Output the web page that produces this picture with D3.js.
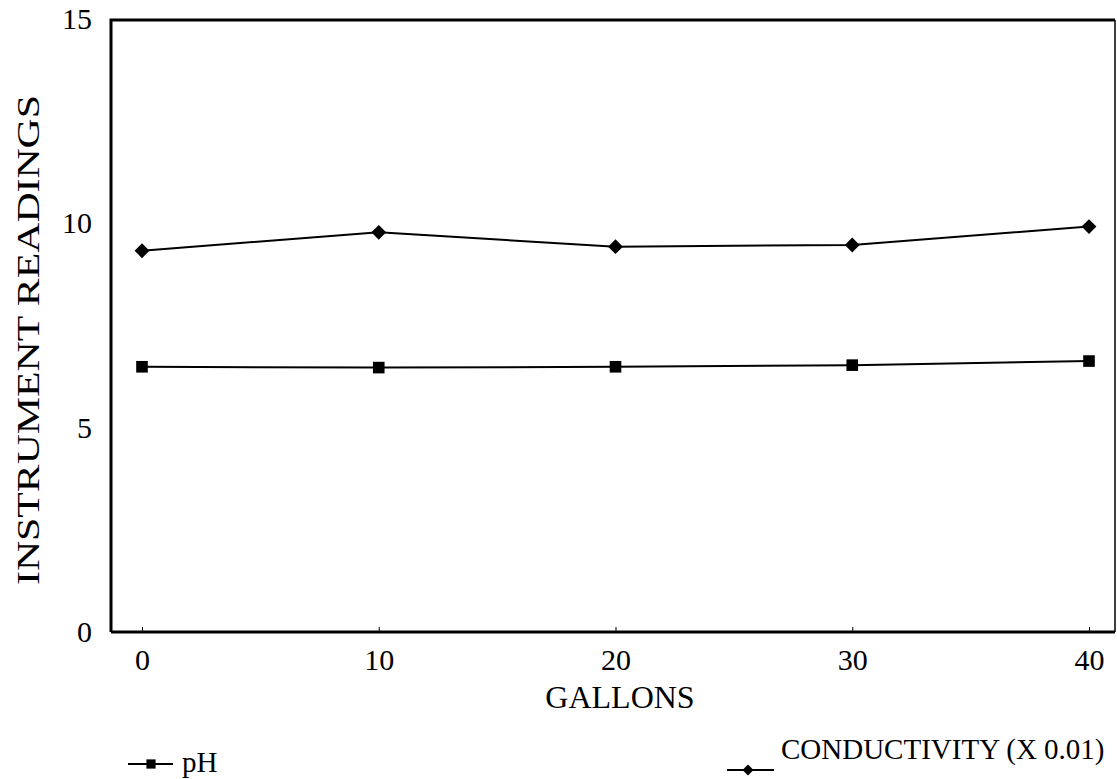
<!DOCTYPE html>
<html><head><meta charset="utf-8">
<script src="https://cdn.jsdelivr.net/npm/d3@7"></script>
<style>body{margin:0;background:#fff}svg{display:block}text{font-family:"Liberation Serif","Times New Roman",serif;fill:#000}</style>
</head><body><svg id="c" width="1117" height="779"></svg>
<script>
const gallons = [0, 10, 20, 30, 40];
const phValues = [6.49, 6.47, 6.49, 6.53, 6.63];
const conductivityValues = [9.33, 9.78, 9.43, 9.47, 9.92];
const yTicks = [0, 5, 10, 15];
const xTicks = [0, 10, 20, 30, 40];
const xTitle = "GALLONS";
const yTitle = "INSTRUMENT READINGS";
const legendPh = "pH";
const legendCond = "CONDUCTIVITY (X 0.01)";

(function(){
const svg = d3.select("#c");
const x = d3.scaleLinear().domain([0, 40]).range([142, 1089]);
const y = d3.scaleLinear().domain([0, 15]).range([632, 19]);
const pl = 111, pr = 1115, pt = 20, pb = 632;

// frame
svg.append("path").attr("d", `M${pl},${pb}V${pt}H${pr}`).attr("fill","none").attr("stroke","#000").attr("stroke-width",3);
svg.append("line").attr("x1",pr).attr("x2",pr).attr("y1",pt).attr("y2",pb).attr("stroke","#000").attr("stroke-width",1.5);
svg.append("line").attr("x1",pl).attr("x2",pr).attr("y1",pb).attr("y2",pb).attr("stroke","#000").attr("stroke-width",3);

// x ticks
const xa = svg.append("g").attr("transform",`translate(0,${pb})`)
  .call(d3.axisBottom(x).tickValues(xTicks).tickSize(-5).tickPadding(17).tickFormat(d3.format("d")));
xa.select(".domain").remove();
xa.attr("font-size",30).attr("font-family","Liberation Serif");
xa.selectAll("line").attr("stroke-width",1);

// y ticks
const ya = svg.append("g").attr("transform",`translate(${pl},0)`)
  .call(d3.axisLeft(y).tickValues(yTicks).tickSize(0).tickPadding(19).tickFormat(d3.format("d")));
ya.select(".domain").remove();
ya.attr("font-size",30).attr("font-family","Liberation Serif");

// titles
svg.append("text").attr("x",620).attr("y",708).attr("text-anchor","middle").attr("font-size",32).text(xTitle);
svg.append("text").attr("transform","translate(39,340) rotate(-90)").attr("text-anchor","middle").attr("font-size",31)
  .attr("textLength",490).attr("lengthAdjust","spacingAndGlyphs").text(yTitle);

// lines
const line = d3.line().x((d,i)=>x(gallons[i])).y(d=>y(d));
svg.append("path").datum(conductivityValues).attr("d",line).attr("fill","none").attr("stroke","#000").attr("stroke-width",2);
svg.append("path").datum(phValues).attr("d",line).attr("fill","none").attr("stroke","#000").attr("stroke-width",2);

const sq = d3.symbol().type(d3.symbolSquare).size(135);
const dm = d3.symbol().type(d3.symbolSquare).size(110);
svg.selectAll(".sq").data(phValues).join("path").attr("d",sq)
  .attr("transform",(d,i)=>`translate(${x(gallons[i])},${y(d)})`);
svg.selectAll(".dm").data(conductivityValues).join("path").attr("d",dm)
  .attr("transform",(d,i)=>`translate(${x(gallons[i])},${y(d)}) rotate(45)`);

// legend
const lg1 = svg.append("g");
lg1.append("line").attr("x1",128).attr("x2",173).attr("y1",764).attr("y2",764).attr("stroke","#000").attr("stroke-width",2);
lg1.append("path").attr("d",d3.symbol().type(d3.symbolSquare).size(85)).attr("transform","translate(151,764)");
lg1.append("text").attr("x",182).attr("y",772).attr("font-size",29).text(legendPh);
const lg2 = svg.append("g");
lg2.append("line").attr("x1",727).attr("x2",774).attr("y1",770).attr("y2",770).attr("stroke","#000").attr("stroke-width",2);
lg2.append("path").attr("d",d3.symbol().type(d3.symbolSquare).size(60)).attr("transform","translate(748,770) rotate(45)");
lg2.append("text").attr("x",781).attr("y",759).attr("font-size",29).text(legendCond);
})();
</script></body></html>
